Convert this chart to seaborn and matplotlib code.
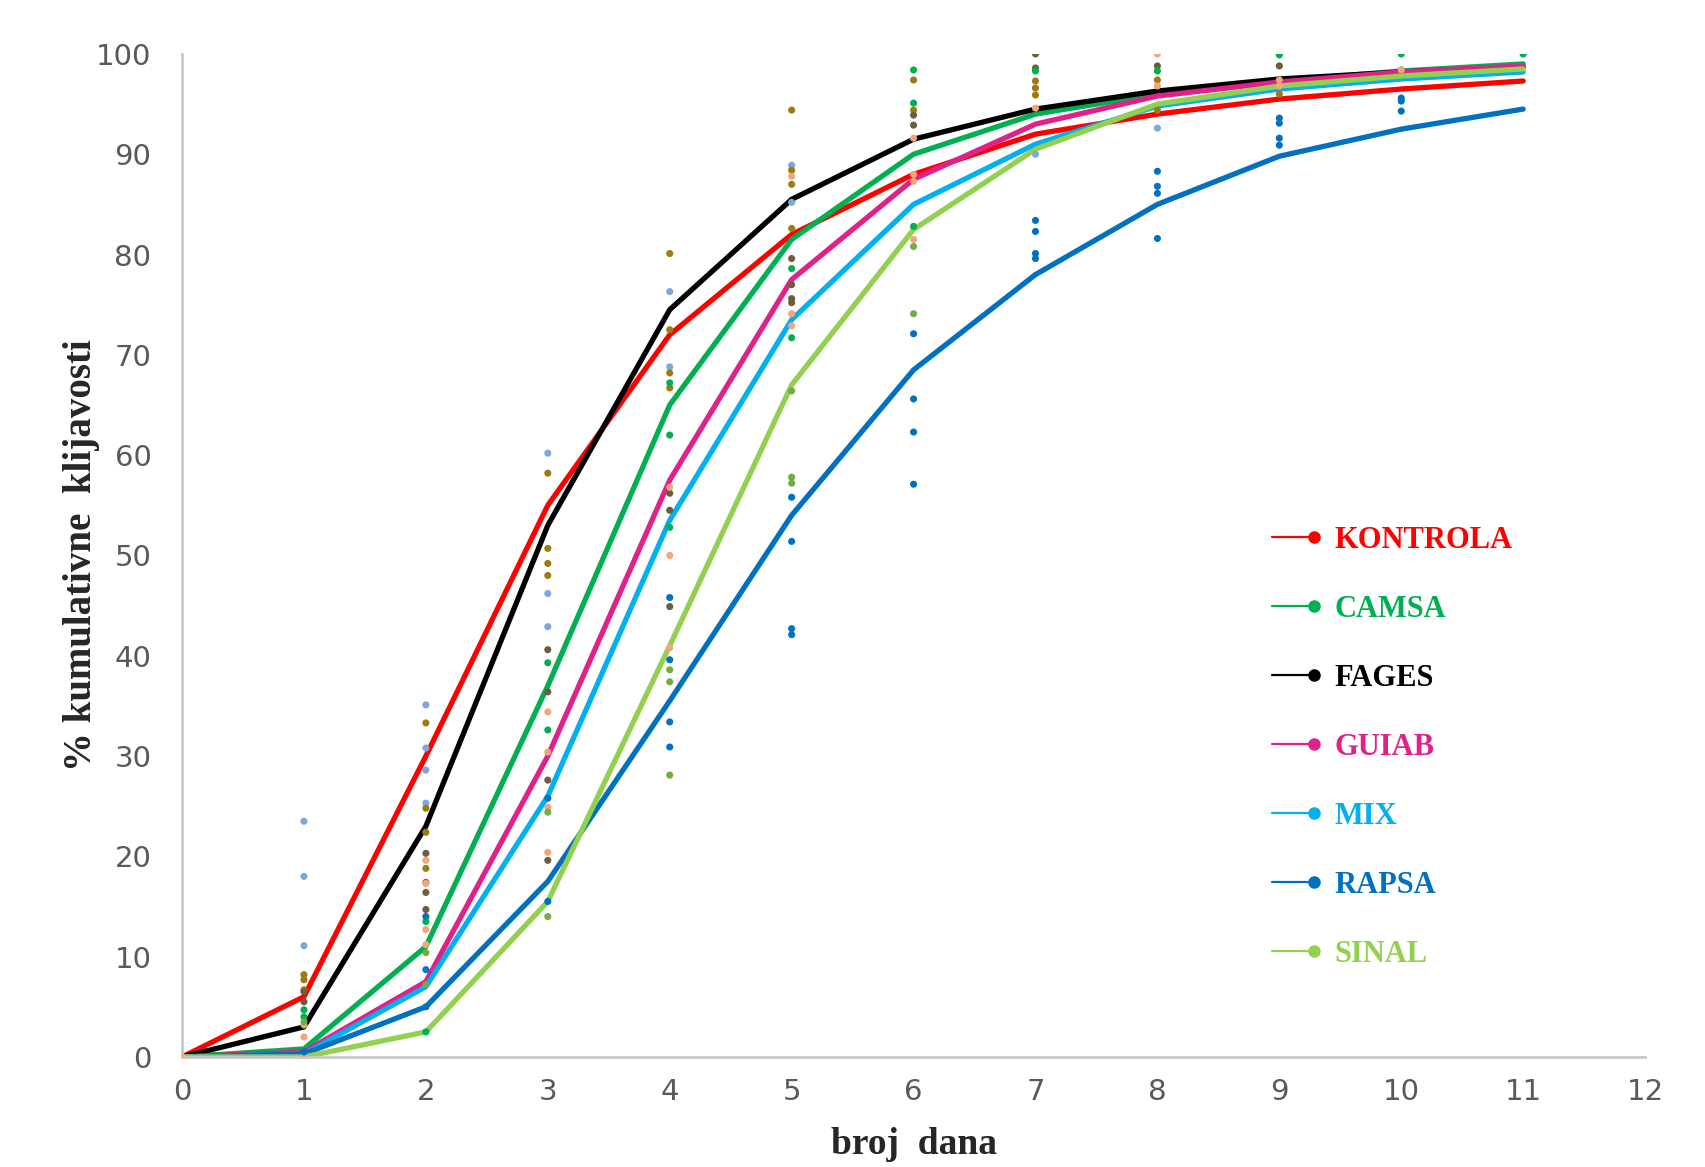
import matplotlib
matplotlib.use('Agg')
import matplotlib.pyplot as plt
from matplotlib.lines import Line2D
from matplotlib.legend_handler import HandlerLine2D
import numpy as np
import pandas as pd
import seaborn as sns

# dani (x os)
days = [0, 1, 2, 3, 4, 5, 6, 7, 8, 9, 10, 11]

# srednje vrijednosti kumulativne klijavosti po tretmanu
treatments = ['KONTROLA', 'CAMSA', 'FAGES', 'GUIAB', 'MIX', 'RAPSA', 'SINAL']
kontrola = [0, 6.0, 30.0, 55.0, 72.0, 82.0, 88.0, 92.0, 94.0, 95.5, 96.5, 97.3]
camsa = [0, 0.8, 11.0, 37.0, 65.0, 81.5, 90.0, 94.0, 96.0, 97.3, 98.3, 99.0]
fages = [0, 3.0, 23.0, 53.0, 74.5, 85.5, 91.5, 94.5, 96.3, 97.5, 98.2, 98.7]
guiab = [0, 0.5, 7.5, 30.0, 57.5, 77.5, 87.5, 93.0, 95.8, 97.2, 98.2, 98.8]
mix = [0, 0.3, 7.0, 26.0, 53.5, 73.5, 85.0, 91.0, 94.8, 96.5, 97.5, 98.2]
rapsa = [0, 0.3, 5.0, 17.5, 35.5, 54.0, 68.5, 78.0, 85.0, 89.8, 92.5, 94.5]
sinal = [0, 0.0, 2.5, 15.5, 41.0, 67.0, 82.5, 90.5, 95.0, 96.8, 97.8, 98.5]

line_colors = {'KONTROLA': '#FF0000', 'CAMSA': '#00B050', 'FAGES': '#000000',
               'GUIAB': '#E0218A', 'MIX': '#00B0F0', 'RAPSA': '#0070C0',
               'SINAL': '#92D050'}

# pojedinacna ponavljanja (tockice)
lightblue_x = [1, 1, 1, 2, 2, 2, 2, 3, 3, 3, 4, 4, 5, 5, 7, 8]
lightblue_y = [23.5, 18.0, 11.1, 35.1, 30.8, 28.6, 25.3, 60.2, 46.2, 42.9, 76.3, 68.8, 88.9, 85.2, 90.0, 92.6]

olive_x = [1, 1, 1, 2, 2, 2, 2, 3, 3, 3, 3, 4, 4, 4, 4, 5, 5, 5, 5, 6, 6, 7, 7, 7, 8, 8, 9]
olive_y = [8.2, 7.7, 6.7, 33.3, 24.8, 22.4, 18.8, 58.2, 50.7, 49.2, 48.0, 80.1, 72.5, 68.2, 66.7,
           94.4, 88.4, 87.0, 82.6, 97.4, 94.4, 97.3, 96.6, 95.9, 97.4, 94.4, 96.0]

darkolive_x = [1, 1, 2, 2, 2, 2, 3, 3, 3, 3, 4, 4, 4, 5, 5, 5, 5, 6, 6, 7, 7, 8, 9, 10]
darkolive_y = [6.5, 5.5, 20.3, 17.4, 16.4, 14.7, 40.6, 36.4, 27.6, 19.6, 56.2, 54.5, 44.9,
               79.6, 77.0, 75.6, 75.2, 93.9, 92.9, 100.0, 98.6, 98.8, 98.8, 98.4]

orange_x = [0, 1, 1, 1, 2, 2, 2, 2, 3, 3, 3, 3, 4, 4, 4, 5, 5, 5, 6, 6, 6, 6, 7, 8, 8, 9, 9, 9, 10, 10, 11]
orange_y = [0, 3.2, 2.0, 0, 19.6, 17.3, 12.7, 11.2, 34.4, 30.4, 24.9, 20.4, 56.8, 50.0, 40.8,
            87.8, 74.1, 72.9, 91.6, 88.0, 87.3, 81.5, 94.6, 100.0, 96.8, 100.0, 97.4, 96.8,
            100.0, 98.4, 100.0]

green_x = [1, 1, 2, 2, 3, 3, 4, 4, 4, 5, 5, 6, 6, 6, 7, 8, 9, 10, 11]
green_y = [4.7, 4.0, 13.5, 2.5, 39.3, 32.6, 67.2, 62.0, 52.8, 78.6, 71.7, 98.4, 95.1, 82.8,
           98.3, 98.3, 99.9, 100.0, 100.0]

darkblue_x = [1, 2, 2, 2, 3, 3, 4, 4, 4, 4, 5, 5, 5, 5, 6, 6, 6, 6, 7, 7, 7, 7,
              8, 8, 8, 8, 9, 9, 9, 9, 10, 10, 10]
darkblue_y = [0.5, 14.0, 8.7, 5.0, 25.8, 15.5, 45.8, 39.6, 33.4, 30.9, 55.8, 51.4, 42.7, 42.1,
              72.1, 65.6, 62.3, 57.1, 83.4, 82.3, 80.1, 79.6, 88.3, 86.8, 86.1, 81.6,
              93.6, 93.1, 91.6, 90.9, 95.6, 95.3, 94.3]

lightgreen_x = [1, 2, 2, 3, 3, 4, 4, 4, 5, 5, 5, 6, 6]
lightgreen_y = [3.5, 10.4, 7.2, 24.4, 14.0, 38.6, 37.4, 28.1, 66.4, 57.8, 57.2, 80.8, 74.1]

dot_colors = {'lightblue': '#7DA7D9', 'olive': '#9E7B10', 'darkolive': '#6B5E3E',
              'orange': '#F4A57A', 'green': '#00B050', 'darkblue': '#0070C0',
              'lightgreen': '#70AD47'}

# long-form tablice
series = [kontrola, camsa, fages, guiab, mix, rapsa, sinal]
df_lines = pd.concat([pd.DataFrame({'dan': days, 'klijavost': s, 'tretman': t})
                      for t, s in zip(treatments, series)], ignore_index=True)

dots = {'lightblue': (lightblue_x, lightblue_y), 'olive': (olive_x, olive_y),
        'darkolive': (darkolive_x, darkolive_y), 'orange': (orange_x, orange_y),
        'green': (green_x, green_y), 'darkblue': (darkblue_x, darkblue_y),
        'lightgreen': (lightgreen_x, lightgreen_y)}
df_dots = pd.concat([pd.DataFrame({'dan': xs, 'klijavost': ys, 'grupa': g})
                     for g, (xs, ys) in dots.items()], ignore_index=True)


# legenda: crta pa tockica na desnom kraju
class LineDotHandler(HandlerLine2D):
    def create_artists(self, legend, orig_handle, xdescent, ydescent, width, height, fontsize, trans):
        arts = super().create_artists(legend, orig_handle, xdescent, ydescent, width, height, fontsize, trans)
        for a in arts:
            a.set_markevery([len(a.get_xdata()) - 1])
        return arts


sns.set_style("white")

fig = plt.figure(figsize=(17.06, 11.67), dpi=100)
ax = fig.add_axes([0.1067, 0.0943, 0.8576, 0.8595])

sns.lineplot(data=df_lines, x='dan', y='klijavost', hue='tretman', palette=line_colors,
             estimator=None, sort=False, linewidth=3.8, legend=False, ax=ax, zorder=2)
sns.scatterplot(data=df_dots, x='dan', y='klijavost', hue='grupa', palette=dot_colors,
                s=26, linewidth=0, legend=False, ax=ax, zorder=3)

ax.set_xlim(0, 12)
ax.set_ylim(0, 100)
ax.set_xticks(range(0, 13))
ax.set_yticks(range(0, 101, 10))
ax.tick_params(axis='both', length=0, labelsize=21, colors='#595959')
ax.tick_params(axis='y', pad=22)
ax.tick_params(axis='x', pad=15)
for lbl in ax.get_xticklabels() + ax.get_yticklabels():
    lbl.set_family('DejaVu Sans')

for side in ['top', 'right']:
    ax.spines[side].set_visible(False)
for side in ['left', 'bottom']:
    ax.spines[side].set_color('#C8C8C8')
    ax.spines[side].set_linewidth(2)

ax.set_xlabel('broj  dana', fontsize=27, fontweight='bold', family='Liberation Serif', labelpad=15)
ax.set_ylabel('% kumulativne  klijavosti', fontsize=28, fontweight='bold',
              family='Liberation Serif', labelpad=-3)

handles = [Line2D([0], [0], color=line_colors[t], lw=1.6, marker='o', markersize=8)
           for t in treatments]
leg = ax.legend(handles, treatments, loc='upper left', bbox_to_anchor=(0.728, 0.545),
                frameon=False, numpoints=2, handlelength=2.0, handletextpad=0.35,
                labelspacing=1.31, borderpad=0,
                handler_map={Line2D: LineDotHandler()},
                prop={'family': 'Liberation Serif', 'weight': 'bold', 'size': 22},
                labelcolor=[line_colors[t] for t in treatments])

plt.savefig('out.png', dpi=100)
